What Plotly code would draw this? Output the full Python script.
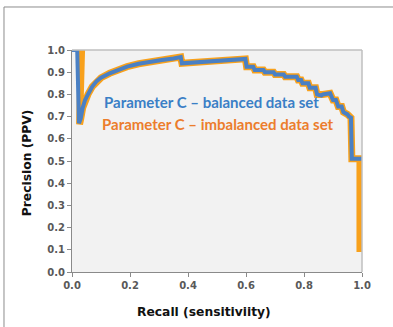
import plotly.graph_objects as go

# Balanced data set (blue)
recall_bal = [0.0, 0.018, 0.024, 0.03, 0.037, 0.045, 0.055, 0.07, 0.085, 0.10, 0.13, 0.16, 0.19,
              0.23, 0.27, 0.31, 0.35, 0.375, 0.379, 0.42, 0.46, 0.50, 0.55, 0.598, 0.602, 0.625,
              0.63, 0.66, 0.665, 0.695, 0.70, 0.73, 0.735, 0.775, 0.78, 0.79, 0.795, 0.815, 0.82,
              0.84, 0.845, 0.86, 0.865, 0.89, 0.90, 0.91, 0.918, 0.93, 0.936, 0.95, 0.955, 0.962,
              0.965, 1.0]
prec_bal = [1.0, 1.0, 0.67, 0.69, 0.74, 0.775, 0.80, 0.835, 0.86, 0.875, 0.895, 0.912, 0.925,
            0.938, 0.948, 0.955, 0.962, 0.968, 0.94, 0.944, 0.948, 0.952, 0.956, 0.96, 0.925, 0.925,
            0.91, 0.91, 0.90, 0.90, 0.89, 0.89, 0.88, 0.88, 0.865, 0.865, 0.85, 0.85, 0.83,
            0.83, 0.80, 0.795, 0.80, 0.805, 0.775, 0.775, 0.745, 0.745, 0.72, 0.71, 0.70, 0.695,
            0.51, 0.51]

# Imbalanced data set (orange)
recall_imb = [0.033, 0.026, 0.03, 0.037, 0.045, 0.055, 0.07, 0.085, 0.10, 0.13, 0.16, 0.19,
              0.23, 0.27, 0.31, 0.35, 0.375, 0.379, 0.42, 0.46, 0.50, 0.55, 0.598, 0.602, 0.625,
              0.63, 0.66, 0.665, 0.695, 0.70, 0.73, 0.735, 0.775, 0.78, 0.79, 0.795, 0.815, 0.82,
              0.84, 0.845, 0.86, 0.865, 0.89, 0.90, 0.91, 0.918, 0.93, 0.936, 0.95, 0.955, 0.962,
              0.965, 0.993, 0.993]
prec_imb = [1.0, 0.665, 0.69, 0.74, 0.775, 0.80, 0.835, 0.86, 0.875, 0.895, 0.912, 0.925,
            0.938, 0.948, 0.955, 0.962, 0.968, 0.94, 0.944, 0.948, 0.952, 0.956, 0.96, 0.925, 0.925,
            0.91, 0.91, 0.90, 0.90, 0.89, 0.89, 0.88, 0.88, 0.865, 0.865, 0.85, 0.85, 0.83,
            0.83, 0.80, 0.795, 0.80, 0.805, 0.775, 0.775, 0.745, 0.745, 0.72, 0.71, 0.70, 0.695,
            0.51, 0.51, 0.09]

x_ticks = [0.0, 0.2, 0.4, 0.6, 0.8, 1.0]
y_ticks = [0.0, 0.1, 0.2, 0.3, 0.4, 0.5, 0.6, 0.7, 0.8, 0.9, 1.0]
label_bal = "Parameter C \u2013 balanced data set"
label_imb = "Parameter C \u2013 imbalanced data set"

fig = go.Figure()
fig.add_trace(go.Scatter(x=recall_imb, y=prec_imb, mode="lines",
                         line=dict(color="#f8a11c", width=7), showlegend=False))
fig.add_trace(go.Scatter(x=recall_bal, y=prec_bal, mode="lines",
                         line=dict(color="#4a80c4", width=4), showlegend=False))

tickfont = dict(family="DejaVu Sans", size=10, color="#595959", weight="bold")
fig.update_xaxes(range=[0, 1], tickvals=x_ticks, ticktext=[f"{v:.1f}" for v in x_ticks],
                 tickfont=tickfont, showgrid=False, zeroline=False, showline=True,
                 linecolor="#8a8a8a", linewidth=1, ticks="outside", ticklen=4,
                 tickcolor="#8a8a8a", fixedrange=True)
fig.update_yaxes(range=[0, 1], tickvals=y_ticks, ticktext=[f"{v:.1f}" for v in y_ticks],
                 tickfont=tickfont, showgrid=False, zeroline=False, showline=True,
                 linecolor="#8a8a8a", linewidth=1, ticks="outside", ticklen=4,
                 tickcolor="#8a8a8a", fixedrange=True)

shapes = [
    # plot area border (top/right lighter)
    dict(type="line", xref="paper", yref="paper", x0=0, x1=1, y0=1, y1=1,
         line=dict(color="#bfbfbf", width=1.5)),
    dict(type="line", xref="paper", yref="paper", x0=1, x1=1, y0=0, y1=1,
         line=dict(color="#bfbfbf", width=1.5)),
    # outer frame lines
    dict(type="line", xref="paper", yref="paper", x0=-0.2345, x1=-0.2345, y0=-0.3, y1=1.1937,
         line=dict(color="#8c8c8c", width=1)),
    dict(type="line", xref="paper", yref="paper", x0=-0.2345, x1=1.2, y0=1.1937, y1=1.1937,
         line=dict(color="#8c8c8c", width=1)),
]

annotations = [
    dict(text=label_bal, x=0.481, y=0.767, xref="x", yref="y", showarrow=False,
         font=dict(family="Lato", size=15, color="#3a7fc6", weight="bold")),
    dict(text=label_imb, x=0.503, y=0.667, xref="x", yref="y", showarrow=False,
         font=dict(family="Lato", size=15, color="#ec7d2c", weight="bold")),
    dict(text="Recall (sensitiviity)", x=0.455, y=-0.18, xref="paper", yref="paper",
         showarrow=False, xanchor="center", yanchor="middle",
         font=dict(family="DejaVu Sans", size=12.3, color="#111111", weight="bold")),
    dict(text="Precision (PPV)", x=-0.155, y=0.49, xref="paper", yref="paper",
         showarrow=False, textangle=-90, xanchor="center", yanchor="middle",
         font=dict(family="DejaVu Sans", size=12.3, color="#111111", weight="bold")),
]

fig.update_layout(width=393, height=327, margin=dict(l=72, r=31, t=50, b=55),
                  paper_bgcolor="white", plot_bgcolor="#f2f2f2",
                  shapes=shapes, annotations=annotations, showlegend=False)

fig.write_html("out.html", config={"displayModeBar": False})
